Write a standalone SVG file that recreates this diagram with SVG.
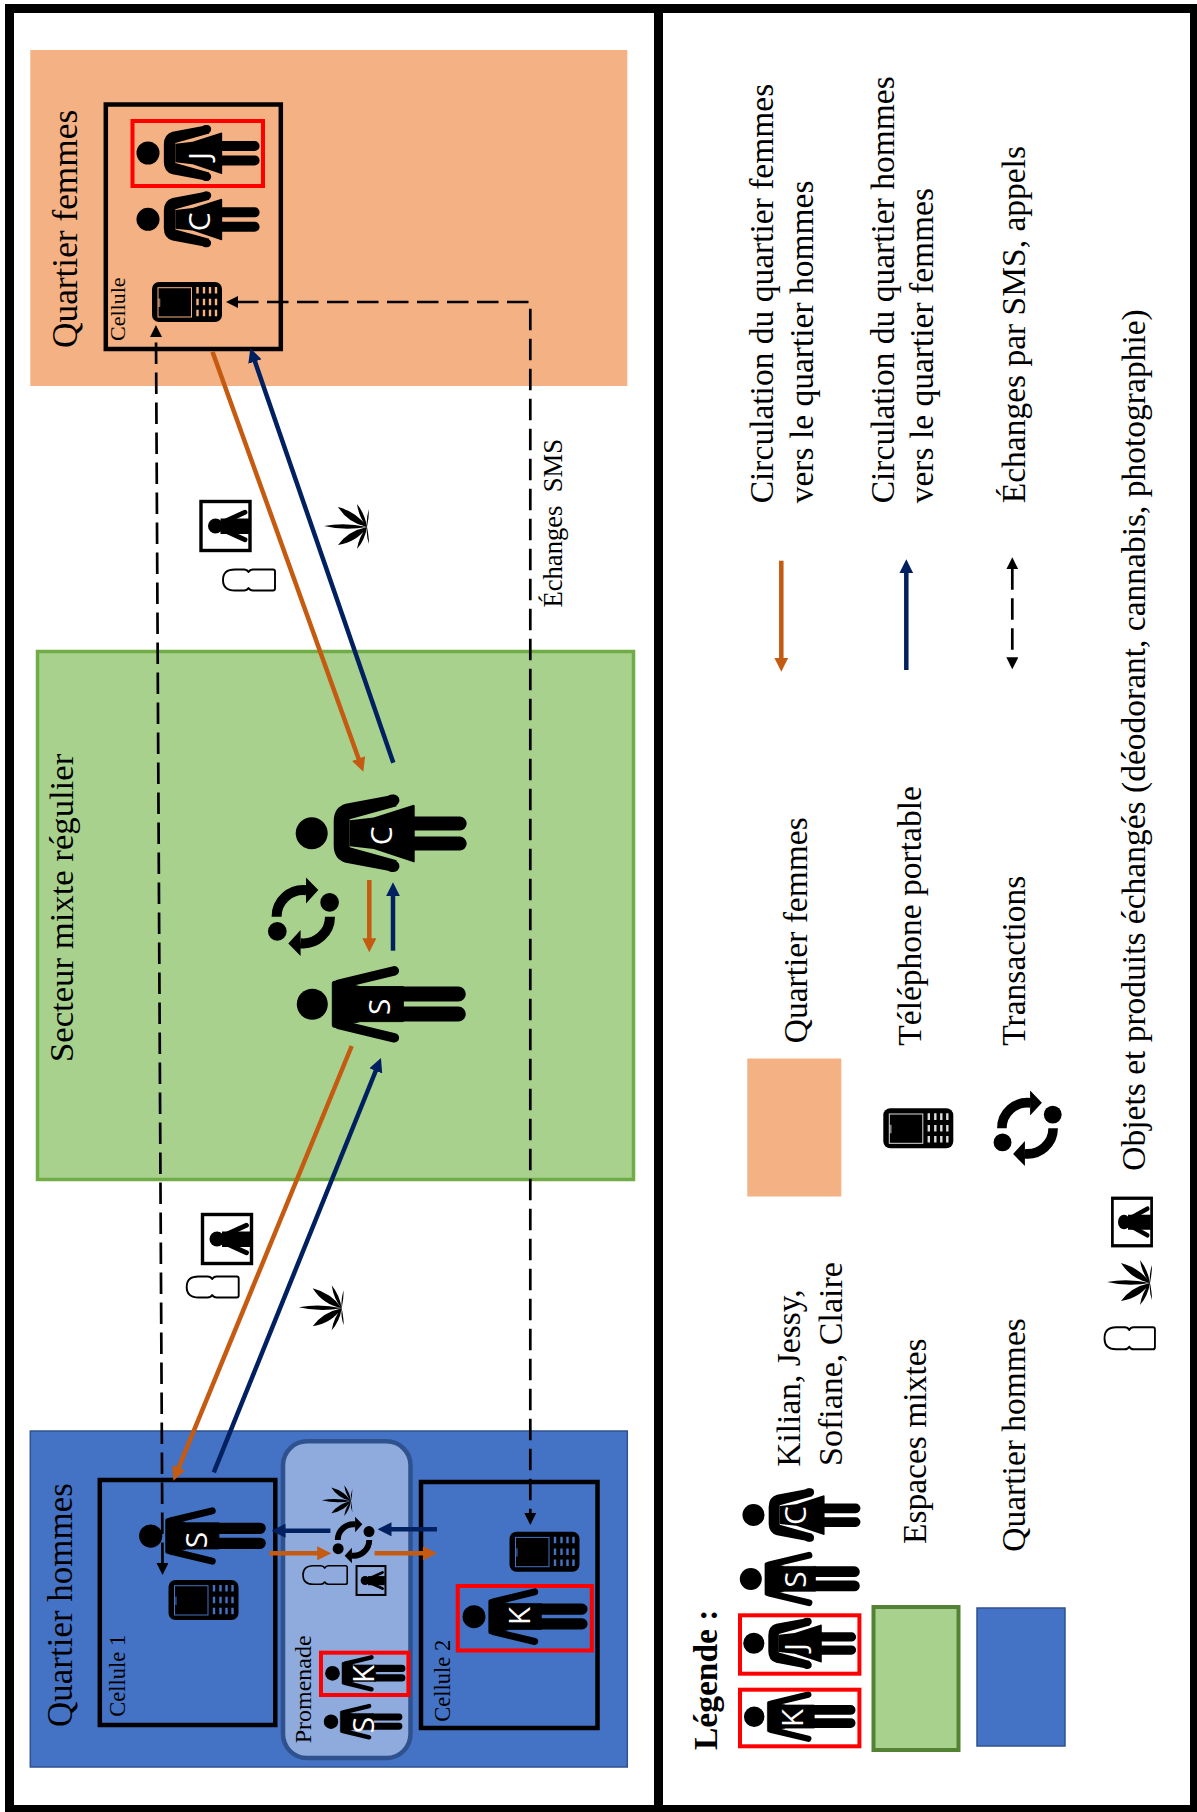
<svg xmlns="http://www.w3.org/2000/svg" width="1197" height="1812" viewBox="0 0 1197 1812">
<style>
text{font-family:"Liberation Serif","Times New Roman",serif;fill:#000}
.t34{font-size:33.5px}
text.letter{font-family:"Open Sans","Noto Sans",sans-serif;fill:#fff;font-size:30px;text-anchor:middle}
.cell{fill:none;stroke:#000;stroke-width:4.5}
.red{fill:none;stroke:#f00;stroke-width:4}
.or{fill:none;stroke:#C55A11;stroke-width:4.5;marker-end:url(#hO)}
.bl{fill:none;stroke:#002060;stroke-width:4.5;marker-end:url(#hB)}
.da{fill:none;stroke:#000;stroke-width:2.7;stroke-dasharray:21.5 8.5}
</style>
<defs>
<marker id="hO" markerUnits="userSpaceOnUse" viewBox="0 0 14 14" markerWidth="14" markerHeight="14" refX="1" refY="7" orient="auto"><path d="M0 0L14 7L0 14Z" fill="#C55A11"/></marker>
<marker id="hB" markerUnits="userSpaceOnUse" viewBox="0 0 14 14" markerWidth="14" markerHeight="14" refX="1" refY="7" orient="auto"><path d="M0 0L14 7L0 14Z" fill="#002060"/></marker>
<marker id="hK" markerUnits="userSpaceOnUse" viewBox="0 0 12 12" markerWidth="12" markerHeight="12" refX="1" refY="6" orient="auto"><path d="M0 0L12 6L0 12Z" fill="#000"/></marker>
<marker id="hKs" markerUnits="userSpaceOnUse" viewBox="0 0 12 12" markerWidth="12" markerHeight="12" refX="11" refY="6" orient="auto"><path d="M12 0L0 6L12 12Z" fill="#000"/></marker>
<g id="man">
<circle r="15.500"/>
<path d="M20-21Q20-23 22-23L48-17.700H91V17.300H48L22 23Q20 23 20 21Z" stroke="#000" stroke-width="1" stroke-linejoin="round"/>
<path d="M26-20L82-33.500M26 20L82 33.500" stroke="#000" stroke-width="9.500" stroke-linecap="round"/>
<path d="M91-10.300H146M91 9.700H146" stroke="#000" stroke-width="15" stroke-linecap="round"/>
</g>
<g id="woman">
<circle r="16"/>
<path d="M22-12Q22-26 34-29.500L82-38.500L85-27L38-14L38 14L85 27L82 38.500L34 29.500Q22 26 22 12Z" stroke-linejoin="round"/>
<path d="M82-33L80-33M82 33L80 33" stroke="#000" stroke-width="11.500" stroke-linecap="round"/>
<path d="M38-13L62-15.700L102-28.500Q103-28.500 103-27V28Q103 29.500 102 29L62 15.700L38 13Z" stroke-linejoin="round"/>
<path d="M103-9.700H148M103 10.300H148" stroke="#000" stroke-width="14" stroke-linecap="round"/>
</g>
<g id="phone">
<rect width="70" height="40" rx="7"/>
<rect x="6" y="5.700" width="33.500" height="29.300" fill="none" stroke="currentColor" stroke-width="1"/>
<rect x="6" y="16.500" width="2.300" height="8.500" fill="currentColor" opacity=".6"/>
<path d="M45.500 5V11.600M52 5V11.600M58 5V11.600M64 5V11.600M45.500 16.700V23.300M52 16.700V23.300M58 16.700V23.300M64 16.700V23.300M45.500 27.700V34.300M52 27.700V34.300M58 27.700V34.300M64 27.700V34.300" stroke="currentColor" stroke-width="2.400" fill="none"/>
</g>
<g id="cycle">
<circle cx="26.300" cy="-14.300" r="9.300"/><circle cx="-26" cy="14.700" r="9.300"/>
<path d="M-26.700 0A26.700 26.700 0 0 1 3-26.500M26.700 0A26.700 26.700 0 0 1-3 26.500" fill="none" stroke="#000" stroke-width="10"/>
<path d="M2.700-39.300L15-26.700L2.700-13.300ZM-2.700 39.300L-15 26.700L-2.700 13.300Z"/>
</g>
<path id="leaf" d="M0 0Q-22-5-43-1Q-22 4 0 0ZM0 0Q-10-15-29-20Q-19-4 0 0ZM0 0Q-2-13-10-23Q-8-9 0 0ZM0 0Q2-10 2-18Q-1-9 0 0ZM0 0Q-10 15-29 18Q-19 4 0 0ZM0 0Q-2 13-10 22Q-8 9 0 0ZM0 0Q2 10 2 17Q-1 9 0 0Z"/>
<g id="photo">
<rect x="-24.500" y="-24.500" width="49" height="49" fill="none" stroke="#000" stroke-width="3.400"/>
<circle cx="-10" r="7.500"/>
<path d="M-5-7.500H23.500V8H-5Z"/>
<path d="M-3-3.500L19.500-13.700M-3 3.500L19.500 13.700" stroke="#000" stroke-width="4.800" stroke-linecap="round"/>
</g>
<path id="deo" d="M12-10.500Q0-10.500 0 0Q0 10.500 12 10.500H21Q24 10.500 25.500 8Q27 10.500 30 10.500H50Q52 10.500 52 8.500V-8.500Q52-10.500 50-10.500H30Q27-10.500 25.500-8Q24-10.500 21-10.500Z" fill="none" stroke="#000" stroke-width="1.900" stroke-linejoin="round"/>
</defs>

<g id="frame"><rect x="9.500" y="8.500" width="1185" height="1801" fill="#fff" stroke="#000" stroke-width="9"/><line x1="658.500" y1="4" x2="658.500" y2="1810" stroke="#000" stroke-width="9"/></g>

<g id="quartier-femmes">
<rect x="30.300" y="50" width="597" height="336" fill="#F4B183"/>
<text transform="translate(77 348) rotate(-90)" font-size="35.300">Quartier femmes</text>
<rect class="cell" x="105.800" y="104.500" width="175" height="244.500"/>
<text transform="translate(125 341) rotate(-90)" font-size="22">Cellule</text>
<use href="#phone" x="152" y="282" style="color:#F4B183"/>
<use href="#woman" transform="translate(148 219.300) scale(.72)"/>
<text class="letter" transform="translate(210 221.700) rotate(-90)">C</text>
<use href="#woman" transform="translate(148 153) scale(.72)"/>
<text class="letter" transform="translate(210 156) rotate(-90)">J</text>
<rect class="red" x="132.500" y="121" width="130.500" height="65"/>
</g>

<g id="quartier-hommes">
<rect x="30.300" y="1431" width="597" height="336" fill="#4472C4" stroke="#2F528F" stroke-width="1.500"/>
<text transform="translate(72.400 1727) rotate(-90)" font-size="35">Quartier hommes</text>
<rect class="cell" x="99.800" y="1480" width="175.500" height="245"/>
<text transform="translate(125.400 1716.700) rotate(-90)" font-size="22.500">Cellule 1</text>
<use href="#man" transform="translate(150.700 1536) scale(.75)"/>
<text class="letter" transform="translate(207 1540) rotate(-90)">S</text>
<use href="#phone" x="168.500" y="1580" style="color:#4472C4"/>
<rect class="cell" x="421" y="1482" width="176.500" height="246"/>
<text transform="translate(450.300 1721.700) rotate(-90)" font-size="22.500">Cellule 2</text>
<use href="#phone" x="509.500" y="1531.700" style="color:#4472C4"/>
<use href="#man" transform="translate(474 1616.700) scale(.74)"/>
<text class="letter" transform="translate(530 1616) rotate(-90)">K</text>
<rect class="red" x="457.800" y="1586" width="134" height="64.500"/>
</g>

<g id="promenade">
<rect x="283" y="1441.300" width="127.500" height="316.700" rx="24" ry="24" fill="#8FAADC" stroke="#2F528F" stroke-width="4.500"/>
<text transform="translate(310.600 1743.300) rotate(-90)" font-size="24">Promenade</text>
<use href="#man" transform="translate(331 1721.700) scale(.465)"/>
<text class="letter" transform="translate(373.700 1725) rotate(-90)">S</text>
<use href="#man" transform="translate(332.500 1673.300) scale(.475)"/>
<text class="letter" transform="translate(373.700 1674) rotate(-90)">K</text>
<rect class="red" x="321" y="1652.700" width="87.400" height="42.300"/>
<use href="#cycle" transform="translate(353.500 1540) scale(.59)"/>
<use href="#leaf" transform="translate(351 1501) scale(.68)"/>
<use href="#deo" transform="translate(303 1575) scale(.85 .88)"/>
<use href="#photo" transform="translate(371 1580.500) scale(.59)"/>
</g>

<g id="secteur-mixte">
<rect x="37.500" y="651.500" width="596" height="528" fill="#A9D18E" stroke="#70AD47" stroke-width="3.500"/>
<text transform="translate(72.800 1062) rotate(-90)" font-size="34.700">Secteur mixte régulier</text>
<use href="#cycle" transform="translate(303.300 916.700)"/>
<use href="#man" transform="translate(312.300 1004.300)"/>
<text class="letter" transform="translate(390 1006.700) rotate(-90)">S</text>
<use href="#woman" transform="translate(311.700 833.300)"/>
<text class="letter" transform="translate(392 835.700) rotate(-90)">C</text>
</g>

<g id="objets">
<use href="#photo" transform="translate(225.500 526)"/>
<use href="#deo" transform="translate(223 580)"/>
<use href="#leaf" transform="translate(367 527)"/>
<use href="#photo" transform="translate(227 1239)"/>
<use href="#deo" transform="translate(186.700 1287)"/>
<use href="#leaf" transform="translate(341.700 1308.300)"/>
</g>

<g id="connectors">
<line class="or" x1="212.500" y1="351.700" x2="358.900" y2="759.500"/>
<line class="bl" x1="393.300" y1="762.700" x2="254.600" y2="360.600"/>
<line class="or" x1="351.700" y1="1046" x2="178.300" y2="1468.700"/>
<line class="bl" x1="213.800" y1="1472.300" x2="376.100" y2="1070"/>
<line class="or" x1="369.300" y1="880" x2="369.300" y2="939.300"/>
<line class="bl" x1="393" y1="950.700" x2="393" y2="895.300"/>
<line class="bl" x1="330.400" y1="1530.700" x2="284.500" y2="1530.700"/>
<line class="bl" x1="437" y1="1529.300" x2="390.500" y2="1529.300"/>
<line class="or" x1="269.400" y1="1553.300" x2="318.200" y2="1553.300"/>
<line class="or" x1="374.600" y1="1553.300" x2="424" y2="1553.300"/>
<path class="da" d="M237 302H530.300V1514" marker-end="url(#hK)" marker-start="url(#hKs)"/>
<path class="da" d="M162.500 1564L156 336" marker-end="url(#hK)" marker-start="url(#hKs)"/>
<text transform="translate(562 607.500) rotate(-90)" font-size="26.600" xml:space="preserve">Échanges  SMS</text>
</g>

<g id="legende">
<text transform="translate(716.500 1750) rotate(-90)" font-size="33.500" font-weight="bold">Légende :</text>
<use href="#man" transform="translate(754.200 1716.700) scale(.66)"/>
<text class="letter" transform="translate(802.800 1718) rotate(-90)">K</text>
<rect class="red" x="740" y="1689.700" width="119.400" height="56.600"/>
<use href="#woman" transform="translate(753.800 1643.300) scale(.66)"/>
<text class="letter" transform="translate(805.500 1647) rotate(-90)">J</text>
<rect class="red" x="740" y="1615.300" width="119.400" height="58.400"/>
<use href="#man" transform="translate(750.800 1579) scale(.71)"/>
<text class="letter" transform="translate(805.500 1579.500) rotate(-90)">S</text>
<use href="#woman" transform="translate(753.500 1515) scale(.69)"/>
<text class="letter" transform="translate(805.500 1515.500) rotate(-90)">C</text>
<text class="t34" transform="translate(800.400 1466.700) rotate(-90)">Kilian, Jessy,</text>
<text class="t34" transform="translate(841.500 1466) rotate(-90)" style="font-size:34px">Sofiane, Claire</text>
<rect x="873.500" y="1607" width="85" height="143" fill="#A9D18E" stroke="#548235" stroke-width="4"/>
<text class="t34" transform="translate(926.400 1544) rotate(-90)">Espaces mixtes</text>
<rect x="977" y="1608" width="88" height="138" fill="#4472C4" stroke="#2F528F" stroke-width="1.500"/>
<text class="t34" transform="translate(1024.700 1551.700) rotate(-90)">Quartier hommes</text>
<rect x="747.300" y="1058.500" width="94" height="138" fill="#F4B183"/>
<text class="t34" transform="translate(806.600 1043.300) rotate(-90)">Quartier femmes</text>
<use href="#phone" x="883.300" y="1108.300" style="color:#ddd"/>
<text class="t34" transform="translate(921 1045.700) rotate(-90)">Téléphone portable</text>
<use href="#cycle" transform="translate(1027.500 1128.300) scale(.96)"/>
<text class="t34" transform="translate(1024.700 1045.700) rotate(-90)">Transactions</text>
<use href="#deo" transform="translate(1104.500 1338.300) scale(.97 1.05)"/>
<use href="#leaf" transform="translate(1150 1283)"/>
<use href="#photo" transform="translate(1132 1222) scale(.8 .97)"/>
<text class="t34" transform="translate(1144.600 1170.700) rotate(-90)">Objets et produits échangés (déodorant, cannabis, photographie)</text>
<text class="t34" transform="translate(772.700 503.300) rotate(-90)">Circulation du quartier femmes</text>
<text class="t34" transform="translate(813.300 503.300) rotate(-90)">vers le quartier hommes</text>
<text class="t34" transform="translate(894 503.300) rotate(-90)">Circulation du quartier hommes</text>
<text class="t34" transform="translate(933.300 503.300) rotate(-90)">vers le quartier femmes</text>
<text class="t34" transform="translate(1025 503.300) rotate(-90)">Échanges par SMS, appels</text>
<line class="or" x1="781.300" y1="560.700" x2="781.300" y2="658.700"/>
<line class="bl" x1="906.300" y1="670" x2="906.300" y2="572.300"/>
<path class="da" d="M1012.300 568.300V658.300" marker-end="url(#hK)" marker-start="url(#hKs)"/>
</g>
</svg>
